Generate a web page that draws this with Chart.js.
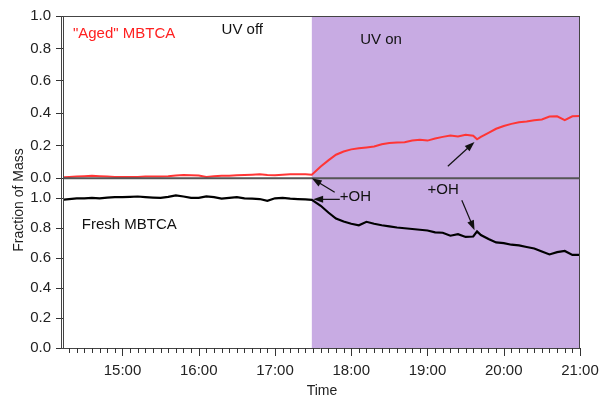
<!DOCTYPE html>
<html>
<head>
<meta charset="utf-8">
<script src="https://cdn.jsdelivr.net/npm/chart.js@4.4.0/dist/chart.umd.min.js"></script>
<style>
    html, body { margin: 0; padding: 0; background: #fff; }
    canvas { display: block; }
</style>
</head>
<body>
<canvas id="grafica" width="599" height="400"></canvas>
<script>
// Datos
const tiempos = [
    '14:12', '14:18', '14:24', '14:30', '14:36', '14:42', '14:48', '14:54',
    '15:00', '15:06', '15:12', '15:18', '15:24', '15:30', '15:36', '15:42', '15:48', '15:54',
    '16:00', '16:06', '16:12', '16:18', '16:24', '16:30', '16:36', '16:42', '16:48', '16:54',
    '17:00', '17:06', '17:12', '17:18', '17:24', '17:29', '17:36', '17:42', '17:48', '17:54',
    '18:00', '18:06', '18:12', '18:18', '18:24', '18:30', '18:36', '18:42', '18:48', '18:54',
    '19:00', '19:06', '19:12', '19:18', '19:24', '19:30', '19:36', '19:39', '19:42', '19:48', '19:54',
    '20:00', '20:06', '20:12', '20:18', '20:24', '20:30', '20:36', '20:42', '20:48', '20:54',
    '21:00'
];

// "Aged" MBTCA (panel superior)
const envejecido = [
    0.005, 0.008, 0.010, 0.012, 0.015, 0.012, 0.010, 0.008,
    0.007, 0.007, 0.008, 0.010, 0.011, 0.011, 0.013, 0.017, 0.020, 0.019,
    0.017, 0.008, 0.012, 0.015, 0.016, 0.018, 0.020, 0.022, 0.025, 0.020,
    0.018, 0.022, 0.024, 0.024, 0.025, 0.022, 0.072, 0.110, 0.145, 0.165,
    0.178, 0.185, 0.190, 0.196, 0.210, 0.217, 0.220, 0.222, 0.232, 0.237,
    0.232, 0.245, 0.255, 0.263, 0.257, 0.268, 0.262, 0.240, 0.255, 0.280, 0.305,
    0.322, 0.335, 0.345, 0.350, 0.357, 0.362, 0.380, 0.382, 0.358, 0.382,
    0.383
];

// Fresh MBTCA (panel inferior)
const fresco = [
    0.990, 0.995, 1.000, 1.000, 1.003, 1.000, 1.005, 1.008,
    1.008, 1.010, 1.012, 1.008, 1.005, 1.003, 1.010, 1.020, 1.012, 1.003,
    1.003, 1.013, 1.008, 0.998, 1.003, 1.008, 1.000, 0.998, 0.995, 0.983,
    1.000, 1.003, 0.998, 0.995, 0.993, 0.990, 0.950, 0.905, 0.865, 0.845,
    0.830, 0.820, 0.843, 0.830, 0.820, 0.812, 0.805, 0.800, 0.795, 0.790,
    0.785, 0.772, 0.770, 0.750, 0.760, 0.742, 0.745, 0.779, 0.755, 0.728, 0.705,
    0.700, 0.690, 0.685, 0.675, 0.665, 0.645, 0.625, 0.640, 0.648, 0.622,
    0.622
];

const etiquetasHoras = ['15:00', '16:00', '17:00', '18:00', '19:00', '20:00', '21:00'];
const inicioEje = '14:14';
const finEje = '21:00';
const inicioUV = '17:29';

// Textos y flechas (en coordenadas de datos)
const textos = [
    { texto: '"Aged" MBTCA', hora: '14:21', valor: 0.89, eje: 'yTop', color: '#ff2020' },
    { texto: 'UV off', hora: '16:18', valor: 0.914, eje: 'yTop', color: '#111' },
    { texto: 'UV on', hora: '18:07', valor: 0.852, eje: 'yTop', color: '#111' },
    { texto: 'Fresh MBTCA', hora: '14:28', valor: 0.82, eje: 'yBot', color: '#111' },
    { texto: '+OH', hora: '17:51', valor: 1.007, eje: 'yBot', color: '#111' },
    { texto: '+OH', hora: '19:00', valor: 1.054, eje: 'yBot', color: '#111' }
];

const flechas = [
    { desde: ['17:47', 1.04, 'yBot'], hasta: ['17:29', 0.0, 'yTop'] },
    { desde: ['17:51', 0.993, 'yBot'], hasta: ['17:30', 0.993, 'yBot'] },
    { desde: ['19:27', 0.987, 'yBot'], hasta: ['19:37', 0.786, 'yBot'] },
    { desde: ['19:16', 0.074, 'yTop'], hasta: ['19:37', 0.224, 'yTop'] }
];

function aMinutos(hhmm) {
    const [h, m] = hhmm.split(':').map(Number);
    return h * 60 + m;
}

const fuente = '"Liberation Sans", Arial, sans-serif';

const marcoPlugin = {
    id: 'marco',
    beforeDatasetsDraw(chart) {
        const { ctx, chartArea: a, scales } = chart;
        const xUV = scales.x.getPixelForValue(aMinutos(inicioUV));
        ctx.save();
        ctx.fillStyle = '#c8abe3';
        ctx.fillRect(xUV, a.top, a.right - xUV, a.bottom - a.top);
        ctx.restore();
    },
    afterDatasetsDraw(chart) {
        const { ctx, chartArea: a, scales } = chart;
        const x = scales.x;
        ctx.save();

        // Marco
        ctx.strokeStyle = '#444';
        ctx.lineWidth = 1;
        ctx.beginPath();
        ctx.moveTo(a.left, a.top + 0.5);
        ctx.lineTo(a.right, a.top + 0.5);
        ctx.moveTo(a.right - 0.5, a.top);
        ctx.lineTo(a.right - 0.5, a.bottom);
        ctx.moveTo(a.left - 0.5, a.top);
        ctx.lineTo(a.left - 0.5, a.bottom);
        ctx.moveTo(a.left - 2.5, a.top);
        ctx.lineTo(a.left - 2.5, a.bottom);
        ctx.moveTo(a.left - 3, a.bottom + 0.5);
        ctx.lineTo(a.right, a.bottom + 0.5);
        ctx.stroke();

        // Separación entre paneles
        const ySep = scales.yTop.bottom;
        ctx.strokeStyle = '#555';
        ctx.lineWidth = 2;
        ctx.beginPath();
        ctx.moveTo(a.left, ySep);
        ctx.lineTo(a.right, ySep);
        ctx.stroke();

        // Marcas del eje de tiempo
        ctx.strokeStyle = '#333';
        ctx.lineWidth = 1;
        ctx.beginPath();
        x.ticks.forEach(t => {
            const px = Math.round(x.getPixelForValue(t.value)) + 0.5;
            const largo = t.value % 60 === 0 ? 8 : 5;
            ctx.moveTo(px, a.bottom);
            ctx.lineTo(px, a.bottom + largo);
        });
        ctx.stroke();

        // Textos
        ctx.font = '15px ' + fuente;
        ctx.textAlign = 'left';
        ctx.textBaseline = 'middle';
        textos.forEach(t => {
            ctx.fillStyle = t.color;
            ctx.fillText(t.texto, x.getPixelForValue(aMinutos(t.hora)), scales[t.eje].getPixelForValue(t.valor));
        });

        // Flechas
        ctx.strokeStyle = '#111';
        ctx.fillStyle = '#111';
        ctx.lineWidth = 1.2;
        flechas.forEach(f => {
            const x1 = x.getPixelForValue(aMinutos(f.desde[0]));
            const y1 = scales[f.desde[2]].getPixelForValue(f.desde[1]);
            const x2 = x.getPixelForValue(aMinutos(f.hasta[0]));
            const y2 = scales[f.hasta[2]].getPixelForValue(f.hasta[1]);
            const ang = Math.atan2(y2 - y1, x2 - x1);
            ctx.beginPath();
            ctx.moveTo(x1, y1);
            ctx.lineTo(x2 - 6 * Math.cos(ang), y2 - 6 * Math.sin(ang));
            ctx.stroke();
            ctx.beginPath();
            ctx.moveTo(x2, y2);
            ctx.lineTo(x2 - 10 * Math.cos(ang) + 3.5 * Math.sin(ang), y2 - 10 * Math.sin(ang) - 3.5 * Math.cos(ang));
            ctx.lineTo(x2 - 10 * Math.cos(ang) - 3.5 * Math.sin(ang), y2 - 10 * Math.sin(ang) + 3.5 * Math.cos(ang));
            ctx.closePath();
            ctx.fill();
        });

        // Título del eje Y
        ctx.font = '14px ' + fuente;
        ctx.fillStyle = '#222';
        ctx.textAlign = 'center';
        ctx.translate(19, 200);
        ctx.rotate(-Math.PI / 2);
        ctx.fillText('Fraction of Mass', 0, 0);
        ctx.restore();
    }
};

const ejeY = (peso, max) => ({
    type: 'linear',
    position: 'left',
    stack: 'paneles',
    stackWeight: peso,
    min: 0,
    max: max,
    border: { display: false },
    grid: { drawOnChartArea: false, tickLength: 8, color: '#333' },
    ticks: {
        stepSize: 0.2,
        includeBounds: false,
        autoSkip: false,
        padding: 5,
        color: '#222',
        font: { family: fuente, size: 15 },
        callback: v => v.toFixed(1)
    },
    afterFit: s => { s.width = 34; }
});

const ctx = document.getElementById('grafica').getContext('2d');
const chart = new Chart(ctx, {
    type: 'line',
    data: {
        datasets: [
            {
                label: '"Aged" MBTCA',
                data: tiempos.map((t, i) => ({ x: aMinutos(t), y: envejecido[i] })),
                yAxisID: 'yTop',
                borderColor: '#ff3535',
                borderWidth: 2,
                pointRadius: 0,
                tension: 0
            },
            {
                label: 'Fresh MBTCA',
                data: tiempos.map((t, i) => ({ x: aMinutos(t), y: fresco[i] })),
                yAxisID: 'yBot',
                borderColor: '#000',
                borderWidth: 2.2,
                pointRadius: 0,
                tension: 0
            }
        ]
    },
    options: {
        responsive: false,
        animation: false,
        layout: { padding: { left: 30, right: 19, top: 16, bottom: 0 } },
        plugins: {
            legend: { display: false },
            tooltip: { enabled: false }
        },
        scales: {
            x: {
                type: 'linear',
                min: aMinutos(inicioEje),
                max: aMinutos(finEje),
                border: { display: false },
                grid: { display: true, drawOnChartArea: false, drawTicks: false },
                ticks: {
                    stepSize: 6,
                    includeBounds: false,
                    autoSkip: false,
                    maxRotation: 0,
                    padding: 14,
                    color: '#222',
                    font: { family: fuente, size: 15 },
                    callback: v => etiquetasHoras.find(h => aMinutos(h) === v) || ''
                },
                title: {
                    display: true,
                    text: 'Time',
                    color: '#222',
                    font: { family: fuente, size: 14 },
                    padding: { top: 0, bottom: 0 }
                },
                afterFit: s => {
                    s.height = 52;
                    s.paddingLeft = 0;
                    s.paddingRight = 0;
                }
            },
            // el orden va al revés en la pila: el último queda arriba
            yBot: ejeY(169.5, 1.134),
            yTop: ejeY(162, 1.0)
        }
    },
    plugins: [marcoPlugin]
});
</script>
</body>
</html>
